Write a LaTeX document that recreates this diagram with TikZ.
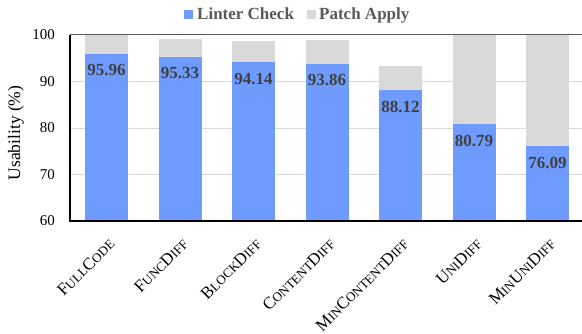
\documentclass[tikz,border=0pt]{standalone}
\usepackage{fontspec}
\setmainfont{Liberation Serif}
\definecolor{barblue}{HTML}{6F9BFF}
\definecolor{bargray}{HTML}{D9D9D9}
\definecolor{vallbl}{HTML}{404040}
\definecolor{legtxt}{HTML}{595959}
\definecolor{gridc}{HTML}{D9D9D9}
\definecolor{topc}{HTML}{595959}
% small-caps imitation: reduced capitals
\newcommand\smc[1]{{\fontsize{13}{14}\selectfont #1}}
\tikzset{
  lintbar/.style={fill=barblue},
  patchbar/.style={fill=bargray},
  vallabel/.style={font=\fontsize{17}{17}\selectfont\bfseries, text=vallbl, inner sep=0pt},
  ticklabel/.style={font=\fontsize{15}{15}\selectfont, anchor=east, inner sep=0pt},
  catlabel/.style={font=\fontsize{17}{18}\selectfont, rotate=45, anchor=north east, inner sep=0pt},
  gridline/.style={draw=gridc, line width=0.9pt},
  legendtext/.style={font=\fontsize{17}{17}\selectfont\bfseries, text=legtxt, anchor=base west, inner sep=0pt},
}
\begin{document}
\begin{tikzpicture}[x=1pt,y=1pt]
\useasboundingbox (0,0) rectangle (582,334);
% value -> vertical position: 60 at 113, 4.65 per unit
\def\ys#1{113+(#1-60)*4.65}
% grid lines
\foreach \g in {70,80,90} {
  \draw[gridline] (70,{\ys{\g}}) -- (582,{\ys{\g}});
}
% tick labels
\foreach \g in {60,70,80,90,100} {
  \node[ticklabel] (t\g) at (55,{\ys{\g}}) {\g};
}
% stacked bars
\foreach \i/\v/\t/\lab in {
  0/95.96/100/{F\smc{ULL}C\smc{ODE}},
  1/95.33/99.15/{F\smc{UNC}D\smc{IFF}},
  2/94.14/98.7/{B\smc{LOCK}D\smc{IFF}},
  3/93.86/98.85/{C\smc{ONTENT}D\smc{IFF}},
  4/88.12/93.3/{M\smc{IN}C\smc{ONTENT}D\smc{IFF}},
  5/80.79/100/{U\smc{NI}D\smc{IFF}},
  6/76.09/100/{M\smc{IN}U\smc{NI}D\smc{IFF}}} {
  \pgfmathsetmacro\xc{106.5+73.5*\i}
  \pgfmathsetmacro\yv{\ys{\v}}
  \pgfmathsetmacro\yt{\ys{\t}}
  \fill[patchbar] (\xc-21.5,\yv) rectangle (\xc+21.5,\yt);
  \fill[lintbar] (\xc-21.5,113) rectangle (\xc+21.5,\yv);
  \node[vallabel] (v\i) at (\xc,\yv-16.5) {\v};
  \node[catlabel] (c\i) at (\xc+1,97) {\lab};
}
% axes frame
\draw[topc, line width=1pt] (70,{\ys{100}}) -- (582,{\ys{100}});
\draw[black, line width=1.1pt] (70,{\ys{100}}) -- (70,113) -- (582,113);
% axis title
\node[font=\fontsize{17.5}{18}\selectfont, rotate=90, inner sep=0pt] (ytitle) at (16,201) {Usability (\%)};
% legend
\fill[barblue] (184,315) rectangle (193,324);
\node[legendtext] (l1) at (197,314.5) {Linter Check};
\fill[bargray] (307,315) rectangle (316,324);
\node[legendtext] (l2) at (319,314.5) {Patch Apply};
\end{tikzpicture}
\end{document}
